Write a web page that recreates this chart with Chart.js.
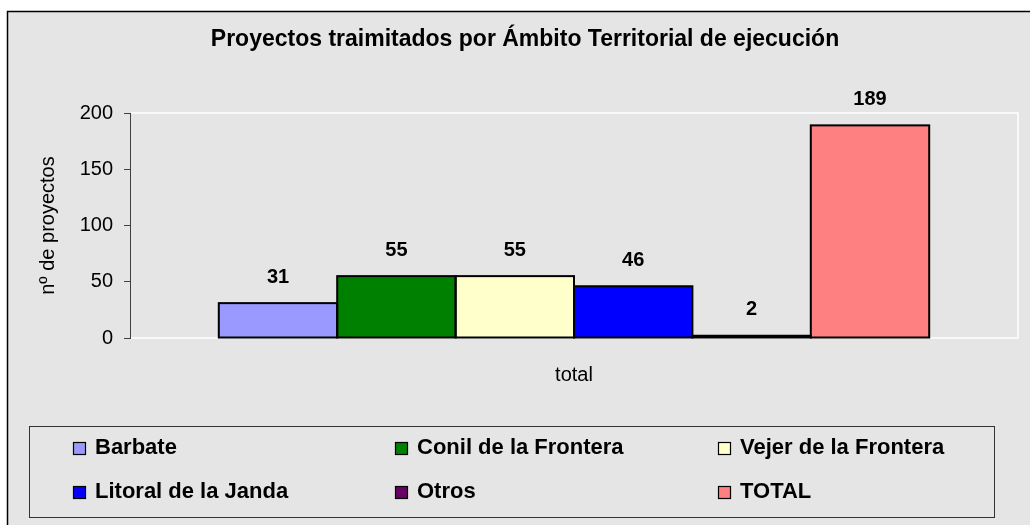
<!DOCTYPE html>
<html>
<head>
<meta charset="utf-8">
<script src="https://cdn.jsdelivr.net/npm/chart.js@4/dist/chart.umd.min.js"></script>
<style>
  html, body { margin: 0; padding: 0; background: #ffffff; }
  canvas { display: block; }
</style>
</head>
<body>
<canvas id="c" width="1030" height="525"></canvas>
<script>
const chartTitle = 'Proyectos traimitados por Ámbito Territorial de ejecución';
const categories = ['total'];
const seriesNames = ['Barbate', 'Conil de la Frontera', 'Vejer de la Frontera', 'Litoral de la Janda', 'Otros', 'TOTAL'];
const seriesValues = [31, 55, 55, 46, 2, 189];
const seriesColors = ['#9999FF', '#008000', '#FFFFCC', '#0000FF', '#660066', '#FF8080'];
const yTickValues = [0, 50, 100, 150, 200];
const yAxisTitle = 'nº de proyectos';

const FONT = "'Liberation Sans', Arial, sans-serif";

const datasets = seriesNames.map((name, i) => ({
  label: name,
  data: [seriesValues[i]],
  backgroundColor: seriesColors[i],
  borderWidth: 0,
  categoryPercentage: 0.8,
  barPercentage: 1.0
}));

const decorPlugin = {
  id: 'decor',
  beforeDraw(chart) {
    const ctx = chart.ctx;
    ctx.save();
    ctx.fillStyle = '#ffffff';
    ctx.fillRect(0, 0, chart.width, chart.height);
    ctx.fillStyle = '#e5e5e5';
    ctx.fillRect(7, 11, chart.width, chart.height);
    ctx.strokeStyle = '#000000';
    ctx.lineWidth = 1.5;
    ctx.beginPath();
    ctx.moveTo(7.5, chart.height + 5);
    ctx.lineTo(7.5, 11.5);
    ctx.lineTo(chart.width + 5, 11.5);
    ctx.stroke();
    ctx.restore();
  },
  beforeDatasetsDraw(chart) {
    const {ctx, chartArea: a} = chart;
    ctx.save();
    ctx.strokeStyle = '#ffffff';
    ctx.lineWidth = 1.5;
    ctx.beginPath();
    ctx.moveTo(a.left + 1, a.top);
    ctx.lineTo(a.right, a.top);
    ctx.lineTo(a.right, a.bottom);
    ctx.lineTo(a.left + 1, a.bottom);
    ctx.stroke();
    ctx.restore();
  },
  afterDatasetsDraw(chart) {
    const ctx = chart.ctx;
    ctx.save();
    // bar outlines
    ctx.strokeStyle = '#000000';
    ctx.lineWidth = 2;
    chart.data.datasets.forEach((ds, i) => {
      const meta = chart.getDatasetMeta(i);
      meta.data.forEach(bar => {
        const p = bar.getProps(['x', 'y', 'base', 'width'], true);
        ctx.strokeRect(p.x - p.width / 2, p.y, p.width, p.base - p.y);
      });
    });
    // value labels
    ctx.fillStyle = '#000000';
    ctx.font = 'bold 20px ' + FONT;
    ctx.textAlign = 'center';
    ctx.textBaseline = 'middle';
    chart.data.datasets.forEach((ds, i) => {
      const meta = chart.getDatasetMeta(i);
      meta.data.forEach((bar, j) => {
        ctx.fillText(String(ds.data[j]), bar.x, bar.y - 26);
      });
    });
    ctx.restore();
  },
  afterDraw(chart) {
    const ctx = chart.ctx;
    ctx.save();
    // title
    ctx.fillStyle = '#000000';
    ctx.font = 'bold 23px ' + FONT;
    ctx.textAlign = 'center';
    ctx.textBaseline = 'middle';
    ctx.fillText(chartTitle, 525, 40);
    // legend box
    ctx.strokeStyle = '#333333';
    ctx.lineWidth = 1;
    ctx.strokeRect(29.5, 426.5, 965, 91);
    const colX = [73, 395, 718];
    const rowY = [448, 492];
    ctx.font = 'bold 22px ' + FONT;
    ctx.textAlign = 'left';
    chart.data.datasets.forEach((ds, i) => {
      const x = colX[i % 3];
      const y = rowY[Math.floor(i / 3)];
      ctx.fillStyle = ds.backgroundColor;
      ctx.fillRect(x, y - 6, 13, 13);
      ctx.strokeStyle = '#000000';
      ctx.lineWidth = 1.2;
      ctx.strokeRect(x + 0.5, y - 5.5, 12, 12);
      ctx.fillStyle = '#000000';
      ctx.fillText(ds.label, x + 22, y);
    });
    ctx.restore();
  }
};

new Chart(document.getElementById('c'), {
  type: 'bar',
  data: { labels: categories, datasets: datasets },
  options: {
    responsive: false,
    animation: false,
    devicePixelRatio: 1,
    layout: { padding: { left: 0, top: 113, right: 12, bottom: 127 } },
    plugins: {
      legend: { display: false },
      title: { display: false },
      tooltip: { enabled: false }
    },
    scales: {
      x: {
        grid: { display: false, drawTicks: false, tickLength: 0 },
        border: { display: false },
        ticks: { font: { family: FONT, size: 20 }, color: '#000000', padding: 25 },
        afterFit: s => { s.height = 60; }
      },
      y: {
        min: 0,
        max: 200,
        afterBuildTicks: s => { s.ticks = yTickValues.map(v => ({ value: v })); },
        ticks: { font: { family: FONT, size: 20 }, color: '#000000', padding: 11 },
        grid: { drawOnChartArea: false, drawTicks: true, tickLength: 6, color: '#404040', lineWidth: 1 },
        border: { display: true, color: '#404040', width: 1 },
        title: {
          display: true,
          text: yAxisTitle,
          font: { family: FONT, size: 20 },
          color: '#000000',
          padding: { top: 36, bottom: 0 }
        },
        afterFit: s => { s.width = 130; }
      }
    }
  },
  plugins: [decorPlugin]
});
</script>
</body>
</html>
